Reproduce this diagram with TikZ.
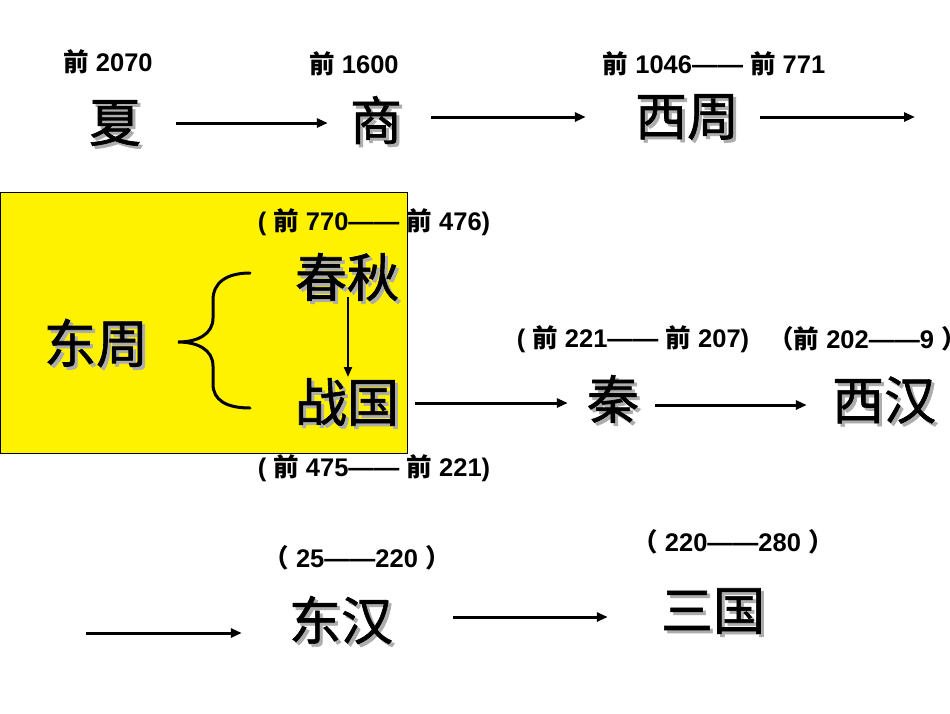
\documentclass[tikz,border=0pt]{standalone}
\usepackage{fontspec}
\setmainfont{Liberation Sans}
\newfontfamily\cjk{Noto Sans CJK SC}
\newfontfamily\cjkbig[FakeBold=1.2]{Noto Sans CJK SC}
\usetikzlibrary{arrows.meta}
\newcommand\qn{{\cjk\bfseries 前}}
\newcommand\lpar{{\cjk （}}
\newcommand\rpar{{\cjk ）}}
\begin{document}
\begin{tikzpicture}[x=1pt,y=-1pt,
  big/.style={font=\cjkbig\fontsize{52}{52}\selectfont, inner sep=0pt},
  bigshadow/.style={big, text=black!32},
  small/.style={font=\bfseries\fontsize{25.5}{25.5}\selectfont, inner sep=0pt},
  conn/.style={line width=3pt, -{Triangle[length=11pt,width=9pt]}},
  thinconn/.style={line width=2pt, -{Triangle[length=10pt,width=8pt]}},
]
\useasboundingbox (0,0) rectangle (950,713);
\fill[white] (0,0) rectangle (950,713);
% yellow box
\node[draw=black, line width=1pt, fill=yellow, minimum width=407pt, minimum height=261pt, inner sep=0pt] (ebox) at (204,322.5) {};

% shadows
\foreach \p/\t in {{(118,126)}/夏, {(379,123)}/商, {(690,120)}/西周, {(99,346)}/东周, {(350,280)}/春秋, {(350,405)}/战国, {(616,402)}/秦, {(887,403)}/西汉, {(344,623)}/东汉, {(716,614)}/三国}
  \node[bigshadow] at \p {\t};

% main texts
\node[big] (xia) at (115,123) {夏};
\node[big] (shang) at (376,120) {商};
\node[big] (xizhou) at (687,117) {西周};
\node[big] (dongzhou) at (96,343) {东周};
\node[big] (chunqiu) at (347,277) {春秋};
\node[big] (zhanguo) at (347,402) {战国};
\node[big] (qin) at (613,399) {秦};
\node[big] (xihan) at (884,400) {西汉};
\node[big] (donghan) at (341,620) {东汉};
\node[big] (sanguo) at (713,611) {三国};

% dates
\node[small] (t1) at (108,62) {\qn{} 2070};
\node[small] (t2) at (354,64) {\qn{} 1600};
\node[small] (t3) at (714,64) {\qn{} 1046—— \qn{} 771};
\node[small] (t4) at (374,222) {( \qn{} 770—— \qn{} 476)};
\node[small] (t5) at (374,468) {( \qn{} 475—— \qn{} 221)};
\node[small] (t6) at (633,339) {( \qn{} 221—— \qn{} 207)};
\node[small, anchor=west] (t7) at (768,339) {\lpar\qn{} 202——9 \rpar};
\node[small] (t8) at (357,558) {\lpar\ 25——220 \rpar};
\node[small] (t9) at (733,542) {\lpar\ 220——280 \rpar};

% free ends
\coordinate (c1) at (915,117);
\coordinate (c2) at (86,633);

% connectors
\draw[conn, shorten <=35pt, shorten >=22pt] (xia.east) -- (xia.east -| shang.west);
\draw[conn, shorten <=29pt, shorten >=49pt] (shang.east |- xizhou.west) -- (xizhou.west);
\draw[conn, shorten <=21pt] (xizhou.east) -- (c1);
\draw[conn, shorten <=16pt, shorten >=19pt] ([yshift=-1pt]zhanguo.east) -- ([yshift=-1pt]zhanguo.east -| qin.west);
\draw[conn, shorten <=16pt, shorten >=25pt] ([yshift=-6pt]qin.east) -- ([yshift=-6pt]qin.east -| xihan.west);
\draw[conn, shorten >=47pt] (c2) -- (c2 -| donghan.west);
\draw[conn, shorten <=60pt, shorten >=53pt] ([yshift=3pt]donghan.east) -- ([yshift=3pt]donghan.east -| sanguo.west);
\draw[thinconn, shorten <=20pt, shorten >=25pt] ([xshift=1pt]chunqiu.center) -- ([xshift=1pt]chunqiu.center |- zhanguo.center);

% brace
\draw[line width=3pt, line cap=round]
  (250,273) .. controls (226,273) and (213,283) .. (213,300) -- (213,318)
  .. controls (213,334) and (198,342) .. (178,342)
  .. controls (198,342) and (213,350) .. (213,366) -- (213,384)
  .. controls (213,400) and (226,408) .. (250,408);
\end{tikzpicture}
\end{document}
